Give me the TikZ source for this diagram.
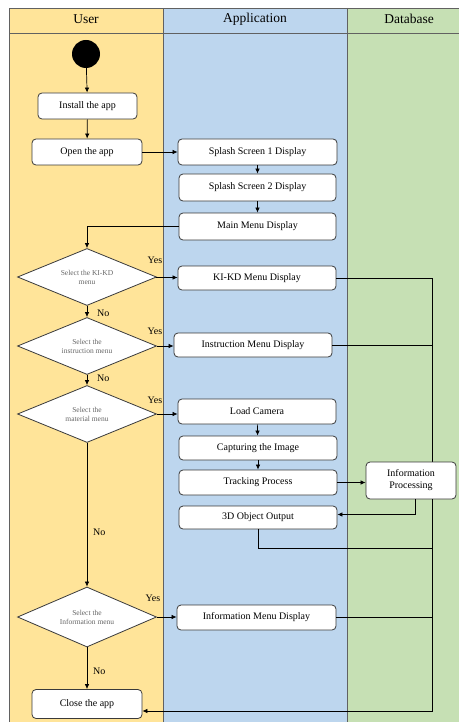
\documentclass[tikz,border=0pt]{standalone}
\usepackage{fontspec}
\setmainfont{Liberation Serif}
\usetikzlibrary{shapes.geometric,arrows.meta}

\definecolor{laneUser}{HTML}{FFE499}
\definecolor{laneApp}{HTML}{BDD6EE}
\definecolor{laneDb}{HTML}{C6E0B4}
\definecolor{edge}{HTML}{3A3A3A}

\tikzset{
  box/.style={draw=edge, line width=0.8pt, rounded corners=4pt, fill=white,
    inner sep=0pt, font=\fontsize{10}{12}\selectfont, align=center},
  choice/.style={diamond, draw=edge, line width=0.8pt, fill=white, aspect=2.5,
    inner sep=0pt, minimum width=139pt, minimum height=57pt,
    font=\fontsize{7.5}{9}\selectfont, text=black!60, align=center},
  arr/.style={-{Latex[length=5pt,width=4.5pt]}, line width=0.7pt},
  conn/.style={line width=0.7pt},
  lbl/.style={font=\fontsize{10}{12}\selectfont, inner sep=0pt},
  head/.style={font=\fontsize{13.5}{15}\selectfont, inner sep=0pt},
  lane/.style={draw=edge!80, line width=0.8pt}
}

\begin{document}
\begin{tikzpicture}[x=1pt,y=-1pt]
\useasboundingbox (0,0) rectangle (459,722);

% swimlanes
\fill[laneUser] (9,8) rectangle (163,722);
\fill[laneApp] (163,8) rectangle (347,722);
\fill[laneDb] (347,8) rectangle (459,722);
\draw[lane] (9,722) -- (9,8) -- (459,8);
\draw[lane] (9,33) -- (459,33);
\draw[lane] (163,8) -- (163,722);
\draw[lane] (347,8) -- (347,722);
\node[head] (hUser) at (86,19) {User};
\node[head] (hApp) at (255,19) {Application};
\node[head] (hDb) at (409,19) {Database};

% user lane
\node[circle, fill=black, minimum size=28pt, inner sep=0pt] (start) at (86,54) {};
\node[box, minimum width=99pt, minimum height=26pt] (install) at (87.5,106) {Install the app};
\node[box, minimum width=110pt, minimum height=26pt] (open) at (87,152) {Open the app};
\node[choice] (d1) at (87,277) {Select the KI-KD\\menu};
\node[choice] (d2) at (87,346) {Select the\\instruction menu};
\node[choice] (d3) at (87,414) {Select the\\material menu};
\node[choice, minimum height=60pt] (d4) at (87,617) {Select the\\Information menu};
\node[box, minimum width=110pt, minimum height=29pt] (close) at (87,704) {Close the app};

% application lane
\node[box, minimum width=159pt, minimum height=26pt] (s1) at (257.5,152) {Splash Screen 1 Display};
\node[box, minimum width=157pt, minimum height=27pt] (s2) at (257.5,187.5) {Splash Screen 2 Display};
\node[box, minimum width=157pt, minimum height=27pt] (main) at (257.5,226.5) {Main Menu Display};
\node[box, minimum width=158pt, minimum height=24pt] (kikd) at (257,278) {KI-KD Menu Display};
\node[box, minimum width=158pt, minimum height=24pt] (instr) at (253,345) {Instruction Menu Display};
\node[box, minimum width=158pt, minimum height=25pt] (load) at (257,411.5) {Load Camera};
\node[box, minimum width=158pt, minimum height=24pt] (capt) at (258,448) {Capturing the Image};
\node[box, minimum width=158pt, minimum height=25pt] (track) at (258,482.5) {Tracking Process};
\node[box, minimum width=158pt, minimum height=23pt] (out3d) at (258,517.5) {3D Object Output};
\node[box, minimum width=159pt, minimum height=25pt] (infomenu) at (256.5,617.5) {Information Menu Display};

% database lane
\coordinate (bus) at (432,0);
\coordinate (bend3d) at (432,548);
\coordinate (busEnd) at (432,711);
\draw[conn] (kikd.east) -- (kikd.east -| bus) -- (bus |- 0,462);
\draw[conn] (instr.east) -- (instr.east -| bus);
\draw[conn] (out3d.south) |- (bend3d);
\draw[conn] (infomenu.east) -- (infomenu.east -| bus);
\node[box, minimum width=90pt, minimum height=37pt] (infop) at (411,480.5) {Information\\Processing};
\draw[arr] (infop.south -| bus) -- (busEnd) -- (close.east |- busEnd);

% main flow
\draw[arr] (start) -- (install);
\draw[arr] (install) -- (open);
\draw[arr] (open) -- (s1);
\draw[arr] (s1) -- (s2);
\draw[arr] (s2) -- (main);
\draw[arr] (main.west) -| (d1.north);
\draw[arr] (d1) -- (kikd);
\draw[arr] (d1) -- (d2);
\draw[arr] (d2.east) -- (instr.west |- d2.east);
\draw[arr] (d2) -- (d3);
\draw[arr] (d3.east) -- (load.west |- d3.east);
\draw[arr] (d3) -- (d4);
\draw[arr] (d4.east) -- (infomenu.west |- d4.east);
\draw[arr] (d4) -- (close);
\draw[arr] (load) -- (capt);
\draw[arr] (capt) -- (track);
\draw[arr] (track.east) -- (infop.west |- track.east);
\draw[arr] ([xshift=4pt]infop.south) |- ([yshift=3pt]out3d.east);

% branch labels
\node[lbl] (y1) at (155,260) {Yes};
\node[lbl] (y2) at (155,331) {Yes};
\node[lbl] (y3) at (155,400) {Yes};
\node[lbl] (y4) at (153,598) {Yes};
\node[lbl, anchor=west] (n1) at (97,313) {No};
\node[lbl, anchor=west] (n2) at (97,378) {No};
\node[lbl, anchor=west] (n3) at (93,532) {No};
\node[lbl, anchor=west] (n4) at (93,671) {No};
\end{tikzpicture}
\end{document}
